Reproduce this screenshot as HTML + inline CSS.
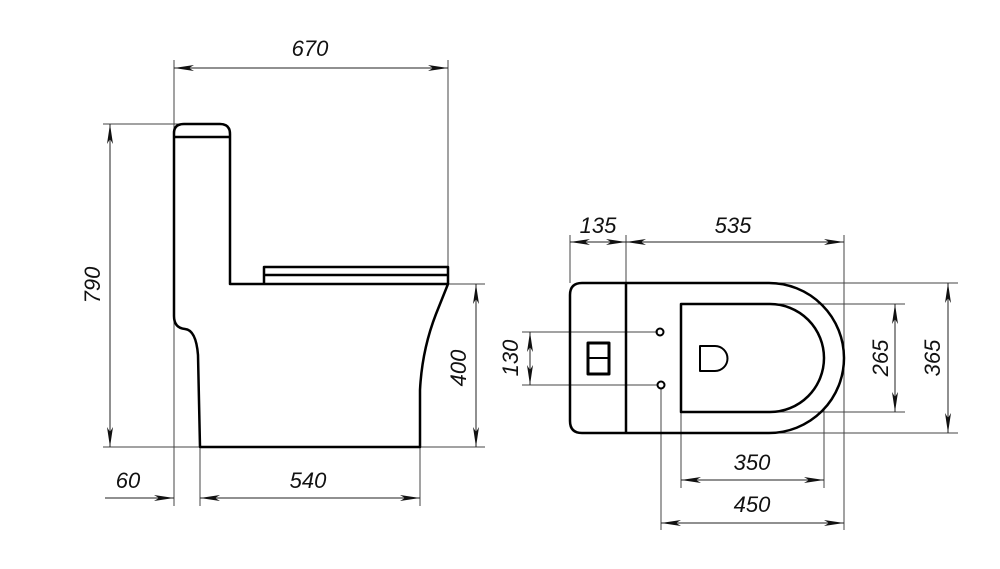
<!DOCTYPE html>
<html><head><meta charset="utf-8"><style>
html,body{margin:0;padding:0;background:#fff;}
svg{display:block;}
text{font-family:"Liberation Sans",sans-serif;font-style:italic;font-size:22px;fill:#111;}
</style></head><body>
<svg width="1000" height="569" viewBox="0 0 1000 569" xmlns="http://www.w3.org/2000/svg">
<defs>
<marker id="a" viewBox="0 0 20 6" refX="20" refY="3" markerWidth="20" markerHeight="6" markerUnits="userSpaceOnUse" orient="auto-start-reverse">
<path d="M0,0 L20,3 L0,6 L5,3 Z" fill="#111"/></marker>
</defs>
<g stroke="#444" stroke-width="1" fill="none">
<!-- side view ext lines -->
<line x1="174" y1="60" x2="174" y2="506"/>
<line x1="448" y1="60" x2="448" y2="267"/>
<line x1="103" y1="124" x2="180" y2="124"/>
<line x1="103" y1="447" x2="485" y2="447"/>
<line x1="448" y1="284" x2="485" y2="284"/>
<line x1="200" y1="447" x2="200" y2="506"/>
<line x1="420" y1="447" x2="420" y2="506"/>
<!-- top view ext -->
<line x1="570" y1="235" x2="570" y2="283"/>
<line x1="626" y1="235" x2="626" y2="283"/>
<line x1="844" y1="235" x2="844" y2="530"/>
<line x1="770" y1="283" x2="958" y2="283"/>
<line x1="770" y1="433" x2="958" y2="433"/>
<line x1="770" y1="304" x2="905" y2="304"/>
<line x1="770" y1="412" x2="905" y2="412"/>
<line x1="522" y1="332" x2="658" y2="332"/>
<line x1="522" y1="385" x2="658" y2="385"/>
<line x1="681" y1="412" x2="681" y2="488"/>
<line x1="824" y1="410" x2="824" y2="488"/>
<line x1="661" y1="389" x2="661" y2="530"/>
</g>
<g stroke="#222" stroke-width="1" fill="none">
<line x1="174" y1="68" x2="448" y2="68" marker-start="url(#a)" marker-end="url(#a)"/>
<line x1="110" y1="124" x2="110" y2="447" marker-start="url(#a)" marker-end="url(#a)"/>
<line x1="476" y1="284" x2="476" y2="447" marker-start="url(#a)" marker-end="url(#a)"/>
<line x1="105" y1="498" x2="174" y2="498" marker-end="url(#a)"/>
<line x1="200" y1="498" x2="420" y2="498" marker-start="url(#a)" marker-end="url(#a)"/>
<line x1="570" y1="242" x2="626" y2="242" marker-start="url(#a)" marker-end="url(#a)"/>
<line x1="626" y1="242" x2="844" y2="242" marker-start="url(#a)" marker-end="url(#a)"/>
<line x1="948" y1="283" x2="948" y2="433" marker-start="url(#a)" marker-end="url(#a)"/>
<line x1="895" y1="304" x2="895" y2="412" marker-start="url(#a)" marker-end="url(#a)"/>
<line x1="530" y1="332" x2="530" y2="385" marker-start="url(#a)" marker-end="url(#a)"/>
<line x1="681" y1="480" x2="824" y2="480" marker-start="url(#a)" marker-end="url(#a)"/>
<line x1="661" y1="523" x2="844" y2="523" marker-start="url(#a)" marker-end="url(#a)"/>
</g>
<g stroke="#000" stroke-width="2.5" fill="none" stroke-linejoin="round">
<!-- side view -->
<path d="M174,137 L174,133 Q174,124 184,124 L220,124 Q230,124 230,134 L230,284 L448,284 L436,314 Q422,350 420,390 L420,447 L200,447 L198,355 Q196,330 185,329 Q174,328 174,316 Z"/>
<line x1="174" y1="137" x2="230" y2="137"/>
<path d="M264,284 L264,267 L448,267 L448,284"/>
<line x1="264" y1="275" x2="448" y2="275"/>
<!-- top view -->
<path d="M582,283 L769,283 A75,75 0 0 1 769,433 L582,433 Q570,433 570,421 L570,295 Q570,283 582,283 Z"/>
<line x1="626" y1="283" x2="626" y2="433"/>
<path d="M681,304 L770,304 A54,54 0 0 1 770,412 L681,412 Z"/>
<rect x="588" y="343" width="21" height="31" stroke-width="3"/>
<line x1="588" y1="358" x2="609" y2="358" stroke-width="2"/>
<path d="M700,346 L715,346 A12.5,12.5 0 0 1 715,371 L700,371 Z" stroke-width="2"/>
<circle cx="660" cy="332" r="3.5" stroke-width="2"/>
<circle cx="661" cy="385" r="3.5" stroke-width="2"/>
</g>
<text x="310" y="56" text-anchor="middle">670</text>
<text transform="translate(100,285) rotate(-90)" text-anchor="middle">790</text>
<text transform="translate(466,368) rotate(-90)" text-anchor="middle">400</text>
<text x="128" y="488" text-anchor="middle">60</text>
<text x="308" y="488" text-anchor="middle">540</text>
<text x="598" y="233" text-anchor="middle">135</text>
<text x="733" y="233" text-anchor="middle">535</text>
<text transform="translate(518,358) rotate(-90)" text-anchor="middle">130</text>
<text transform="translate(888,358) rotate(-90)" text-anchor="middle">265</text>
<text transform="translate(940,358) rotate(-90)" text-anchor="middle">365</text>
<text x="752" y="470" text-anchor="middle">350</text>
<text x="752" y="512" text-anchor="middle">450</text>
</svg>
</body></html>
